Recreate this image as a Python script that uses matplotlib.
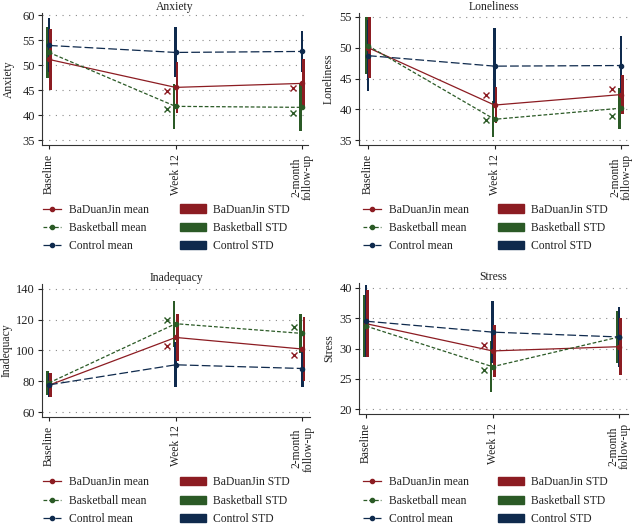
import matplotlib
matplotlib.use("Agg")
import matplotlib.pyplot as plt
import matplotlib.patches as mpatches
from matplotlib.lines import Line2D
import numpy as np

plt.rcParams['font.family'] = ['Liberation Serif', 'DejaVu Serif']

nan = np.nan
timepoints = ['Baseline', 'Week 12', '2-month\nfollow-up']
groups = ['BaDuanJin', 'Basketball', 'Control']
colors = ['#8c1c22', '#2b5a26', '#0f2a4d']

# means / std per group: BaDuanJin, Basketball, Control
anx_mean = [[51.2, 45.6, 46.4], [52.6, 41.8, 41.6], [54.0, 52.6, 52.8]]
anx_std = [[6.1, 5.1, 4.8], [5.1, 4.5, 4.7], [5.4, 5.0, 4.1]]
anx_x = [[nan, 44.8, 45.5], [nan, 41.3, 40.5]]

lon_mean = [[50.0, 40.7, 42.4], [50.3, 38.4, 40.2], [48.7, 47.0, 47.1]]
lon_std = [[4.9, 2.9, 3.1], [4.6, 2.9, 3.3], [5.8, 6.1, 4.8]]
lon_x = [[nan, 42.3, 43.3], [nan, 38.3, 39.0]]

inad_mean = [[77.5, 108.4, 100.9], [79.0, 117.3, 111.0], [77.7, 90.7, 88.3]]
inad_std = [[7.7, 15.0, 21.0], [7.8, 15.0, 12.6], [7.7, 14.5, 11.7]]
inad_x = [[nan, 103.0, 97.2], [nan, 119.7, 115.1]]

str_mean = [[34.1, 29.6, 30.3], [33.7, 27.0, 31.9], [34.5, 32.7, 31.9]]
str_std = [[5.5, 4.3, 4.7], [5.1, 4.2, 4.3], [5.9, 5.1, 4.9]]
str_x = [[nan, 30.5, nan], [nan, 26.4, nan]]

W, H = 633, 524
fig = plt.figure(figsize=(W / 100, H / 100), dpi=100)

def px(l, t, r, b):
    return [l / W, 1 - b / H, (r - l) / W, (b - t) / H]

panels = [
    ('Anxiety', anx_mean, anx_std, anx_x, px(42, 13, 308, 145), (-0.055, 2.047), (34.06, 60.5), np.arange(35, 61, 5), (43, 180, 228), 15),
    ('Loneliness', lon_mean, lon_std, lon_x, px(359, 13, 628, 145), (-0.071, 2.055), (34.24, 55.6), np.arange(35, 56, 5), (363, 498, 228), 335),
    ('Inadequacy', inad_mean, inad_std, inad_x, px(42, 284, 310, 416.7), (-0.055, 2.06), (57.1, 143), np.arange(60, 141, 20), (43, 180, 500.7), 13),
    ('Stress', str_mean, str_std, str_x, px(359, 283, 628, 414), (-0.055, 2.07), (19.2, 40.8), np.arange(20, 41, 5), (363, 498, 500.7), 335),
]

x = np.arange(len(timepoints))
offsets = [0.013, -0.013, 0.0]
bar_z = [4, 2, 3]
styles = ['-', (0, (3, 1.6)), (0, (7, 2.5))]
txt = '#222222'
fs = 8.4

for title, means, stds, xs, rect, xlim, ylim, yticks, leg, ylab_x in panels:
    ax = fig.add_axes(rect)
    for g in range(3):
        m = np.array(means[g])
        s = np.array(stds[g])
        ax.bar(x + offsets[g], 2 * s, bottom=m - s, width=0.021,
               color=colors[g], zorder=bar_z[g])
    for g in range(3):
        ax.plot(x, means[g], color=colors[g], linestyle=styles[g], lw=0.9,
                marker='o', ms=3, zorder=6)
    for g in range(2):
        ax.plot(x - 0.07, xs[g], linestyle='none', marker='x', ms=5,
                mew=1.0, color=colors[g], zorder=6)

    ax.set_xlim(*xlim)
    ax.set_ylim(*ylim)
    ax.set_yticks(yticks)
    ax.set_xticks(x)
    ax.set_xticklabels(timepoints, rotation=90, va='top', ha='center',
                       fontsize=fs, color=txt, linespacing=0.95)
    ax.tick_params(axis='y', labelsize=9, colors=txt, length=3, width=0.8, pad=2)
    ax.tick_params(axis='x', length=3, width=0.8, colors=txt)
    ax.yaxis.grid(True, linestyle=(0, (1, 5)), color='#8a8a8a', lw=0.8)
    ax.set_axisbelow(True)
    for sp in ['top', 'right']:
        ax.spines[sp].set_visible(False)
    for sp in ['left', 'bottom']:
        ax.spines[sp].set_color('#333333')
        ax.spines[sp].set_linewidth(0.8)
    ax.set_title(title, fontsize=fs, color=txt, pad=2)
    ax.set_ylabel(title, fontsize=fs, color=txt)
    ax.yaxis.set_label_coords((ylab_x / W - rect[0]) / rect[2], 0.5)

    # legends
    mean_handles = [Line2D([], [], color=colors[g], linestyle=styles[g], lw=0.9,
                           marker='o', ms=3) for g in range(3)]
    std_handles = [mpatches.Patch(color=colors[g]) for g in range(3)]
    lx1, lx2, ly = leg
    l1 = fig.legend(mean_handles, [g + ' mean' for g in groups], loc='center left',
                    bbox_to_anchor=(lx1 / W, 1 - ly / H), frameon=False,
                    fontsize=fs, handlelength=1.55, handletextpad=0.7,
                    borderpad=0, borderaxespad=0, labelspacing=0.55, numpoints=1)
    l2 = fig.legend(std_handles, [g + ' STD' for g in groups], loc='center left',
                    bbox_to_anchor=(lx2 / W, 1 - ly / H), frameon=False,
                    fontsize=fs, handlelength=2.25, handleheight=0.7,
                    handletextpad=0.6, borderpad=0, borderaxespad=0,
                    labelspacing=0.55)
    for t in l1.get_texts() + l2.get_texts():
        t.set_color(txt)

fig.savefig('out.png', dpi=100)
